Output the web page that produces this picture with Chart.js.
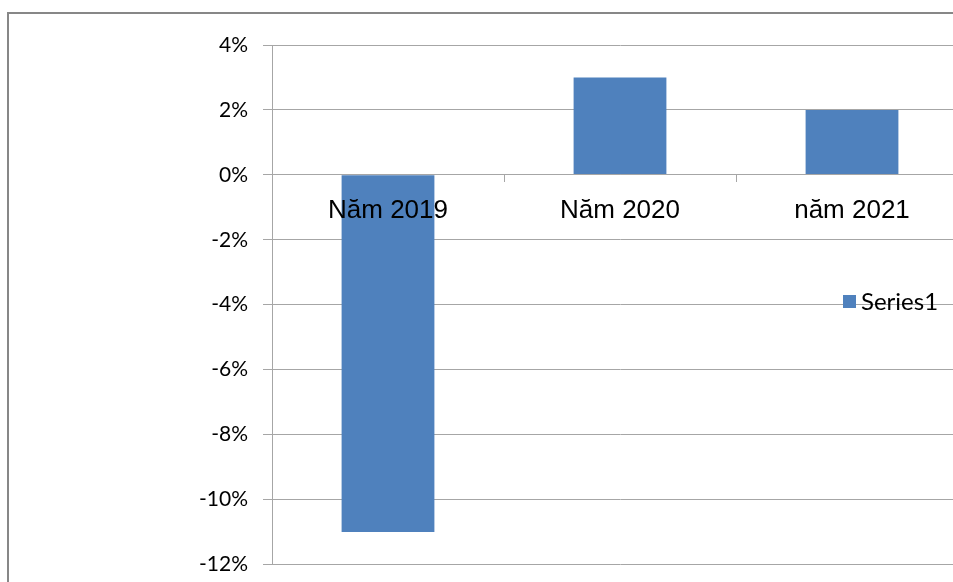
<!DOCTYPE html>
<html>
<head>
<meta charset="utf-8">
<script src="https://cdn.jsdelivr.net/npm/chart.js@4.4.1/dist/chart.umd.min.js"></script>
<style>
  html, body { margin: 0; padding: 0; background: #fff; overflow: hidden; }
  #wrap { position: relative; width: 953px; height: 582px; overflow: hidden; }
  #frame { position: absolute; left: 7px; top: 12px; width: 1000px; height: 700px; border: 2px solid #878787; box-sizing: border-box; }
  canvas { position: absolute; left: 0; top: 0; }
</style>
</head>
<body>
<div id="wrap">
  <div id="frame"></div>
  <canvas id="chart" width="990" height="592"></canvas>
</div>
<script>
// ---------------- DATA ----------------
const categories = ["Năm 2019", "Năm 2020", "năm 2021"];
const seriesName = "Series1";
const seriesValues = [-11, 3, 2];   // percent
const yMin = -12, yMax = 4, yStep = 2;

const gridColor = "#a6a6a6";
const barColor = "#4f81bd";

// ---------------- LEGEND (drawn inside plot, right side) ----------------
const sideLegend = {
    id: "sideLegend",
    afterDraw(chart) {
        const ctx = chart.ctx;
        const ds = chart.data.datasets[0];
        const x = 843, y = 302;
        ctx.save();
        ctx.fillStyle = ds.backgroundColor;
        ctx.fillRect(x, y - 7, 13, 13);
        ctx.fillStyle = "#000";
        ctx.font = "24px Lato";
        ctx.textBaseline = "middle";
        ctx.textAlign = "left";
        ctx.fillText(ds.label, x + 18, y);
        ctx.restore();
    }
};

// ---------------- CHART ----------------
new Chart(document.getElementById("chart"), {
    type: "bar",
    data: {
        labels: categories,
        datasets: [{
            label: seriesName,
            data: seriesValues,
            backgroundColor: barColor,
            barPercentage: 1,
            categoryPercentage: 0.4
        }]
    },
    options: {
        responsive: false,
        animation: false,
        layout: { padding: { left: 0, right: 22, top: 45, bottom: 0 } },
        plugins: {
            legend: { display: false },
            tooltip: { enabled: false }
        },
        scales: {
            x: {
                position: { y: 0 },
                offset: true,
                grid: {
                    display: true,
                    drawOnChartArea: false,
                    offset: true,
                    tickLength: 7,
                    color: gridColor,
                    z: 1
                },
                border: { color: gridColor, z: 1 },
                ticks: {
                    z: 1,
                    autoSkip: false,
                    maxRotation: 0,
                    padding: 13,
                    color: "#000",
                    font: { family: "Liberation Sans", size: 26 }
                }
            },
            y: {
                min: yMin,
                max: yMax,
                grid: { color: gridColor, tickLength: 9 },
                border: { color: gridColor },
                ticks: {
                    stepSize: yStep,
                    padding: 15,
                    color: "#000",
                    font: { family: "Lato", size: 21 },
                    callback: v => v + "%"
                },
                afterFit(scale) { scale.width = 272; }
            }
        }
    },
    plugins: [sideLegend]
});
</script>
</body>
</html>
